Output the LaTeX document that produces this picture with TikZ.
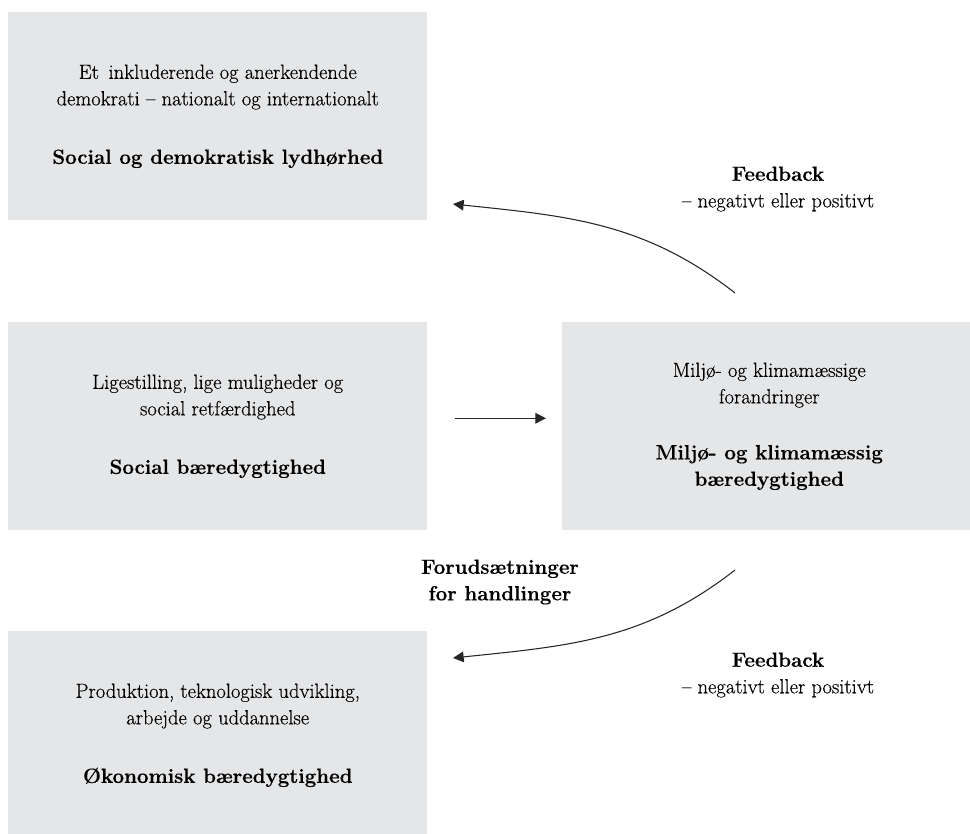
\documentclass[tikz,border=0pt]{standalone}
\usepackage{fontspec}
\setmainfont{Latin Modern Roman}[FakeBold=0.35]
\usepackage{tikz}
\usetikzlibrary{arrows.meta}
\definecolor{boxgray}{RGB}{229,230,232}

\begin{document}
\begin{tikzpicture}[x=0.75pt,y=-0.75pt]
    % `area' is used for the four grey boxes.
    % `flow' is used for the arrows between them.
    % `note' is used for the labels beside the arrows.
    \tikzstyle{area} = [fill=boxgray,anchor=north west,inner sep=0pt,align=center,
      minimum width=314.25pt,minimum height=156pt,font=\fontsize{15.4}{19.9}\selectfont]
    \tikzstyle{flow} = [line width=0.8pt,draw=black!85,-{Triangle[length=8pt,width=8pt]}]
    \tikzstyle{note} = [inner sep=0pt,align=center,font=\fontsize{15.4}{19.9}\selectfont]
    %
    \useasboundingbox (0,0) rectangle (970,833);
    \clip (0,0) rectangle (970,833);
    % Draw boxes.
    \node[area] (democracy) at (8,12) {Et~\,inkluderende og anerkendende\\
      demokrati – nationalt og internationalt\\[24pt]
      \textbf{Social og demokratisk lydhørhed}};
    \node[area] (equality) at (8,322) {Ligestilling, lige muligheder og\\
      social retfærdighed\\[24pt]
      \textbf{Social bæredygtighed}};
    \node[area,minimum width=310.5pt] (climate) at (562,322) {Miljø- og klimamæssige\\
      forandringer\\[22pt]
      \textbf{Miljø- og klimamæssig}\\
      \textbf{bæredygtighed}};
    \node[area] (economy) at (8,631) {Produktion, teknologisk udvikling,\\
      arbejde og uddannelse\\[24pt]
      \textbf{Økonomisk bæredygtighed}};
    % Draw labels.
    \node[note] (feedbacktop) at (778,189) {\textbf{Feedback}\\– negativt eller positivt};
    \node[note] (feedbackbottom) at (778,675) {\textbf{Feedback}\\– negativt eller positivt};
    \node[note] (premises) at (500,582) {\textbf{Forudsætninger}\\\textbf{for handlinger}};
    % Draw arrows.
    \coordinate (topstart) at (735,293);
    \coordinate (topend) at (453,204);
    \coordinate (bottomstart) at (735,570);
    \coordinate (bottomend) at (453,658);
    \draw[flow,shorten <=20.25pt,shorten >=12pt] ([yshift=6pt]equality.east) -- ([yshift=6pt]climate.west);
    \draw[flow] (topstart) to[out=142,in=-6] (topend);
    \draw[flow] (bottomstart) to[out=-142,in=6] (bottomend);
\end{tikzpicture}
\end{document}
